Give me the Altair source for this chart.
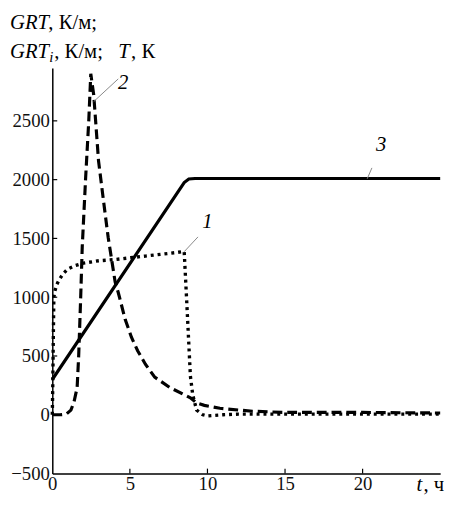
import altair as alt
import pandas as pd

# ---- data ----
# curve 1 (dotted): GRT
t1 = [0, 0.03, 0.06, 0.1, 0.18, 0.3, 0.45, 0.7, 1.0, 1.5, 2.0, 3.0, 4.0, 5.0, 6.0, 7.0, 8.0, 8.5,
      8.65, 8.9, 9.05, 9.3, 9.7, 10.0, 11.0, 12.0, 15.0, 20.0, 25.0]
v1 = [0, 250, 600, 1000, 1060, 1110, 1150, 1200, 1240, 1270, 1290, 1310, 1320, 1335, 1350, 1365, 1380, 1390,
      1000, 330, 170, 40, 0, -10, 0, 5, 5, 5, 5]
# curve 2 (dashed): GRT_i
t2 = [0, 0.5, 0.9, 1.2, 1.4, 1.6, 1.7, 1.83, 1.93, 2.15, 2.35, 2.48, 2.67, 2.98, 3.3, 3.6, 4.05, 4.25,
      4.7, 5.1, 5.5, 6.0, 6.6, 7.6, 8.9, 9.3, 9.8, 10.8, 12.9, 15.0, 20.0, 25.0]
v2 = [0, 0, 5, 40, 110, 230, 500, 1000, 1430, 2020, 2500, 2900, 2720, 2160, 1820, 1510, 1130, 1040,
      810, 660, 545, 430, 320, 230, 145, 100, 80, 55, 30, 20, 20, 15]
# curve 3 (solid): T
t3 = [0, 8.5, 8.8, 9.2, 25.0]
v3 = [300, 1975, 2005, 2010, 2010]

# curve labels and leader lines (data units)
lab_text = ["1", "2", "3"]
lab_t = [10.0, 4.57, 21.2]
lab_v = [1640, 2825, 2295]
lead_t1 = [8.5, 2.67, 20.3]
lead_v1 = [1387, 2664, 2008]
lead_t2 = [9.39, 4.25, 20.6]
lead_v2 = [1513, 2857, 2100]

x_ticks = [0, 5, 10, 15, 20]
y_ticks = [-500, 0, 500, 1000, 1500, 2000, 2500]

W, H = 394, 412
SERIF = "Liberation Serif, Times New Roman, Times, serif"

xs = alt.Scale(domain=[0, 25], nice=False, zero=False)
ys = alt.Scale(domain=[-500, 2950], nice=False, zero=False)

xaxis = alt.Axis(values=x_ticks, format="d", ticks=False, grid=False, title=None, labelPadding=1,
                 labelFont=SERIF)
yaxis = alt.Axis(values=y_ticks, format="d", ticks=False, grid=False, title=None, labelPadding=3,
                 labelFont=SERIF)

d1 = pd.DataFrame({"t": t1, "v": v1})
d2 = pd.DataFrame({"t": t2, "v": v2})
d3 = pd.DataFrame({"t": t3, "v": v3})

X = alt.X("t:Q", scale=xs, axis=xaxis)
Y = alt.Y("v:Q", scale=ys, axis=yaxis)

c3 = alt.Chart(d3).mark_line(color="black", strokeWidth=3.2).encode(x=X, y=Y)
c2 = alt.Chart(d2).mark_line(color="black", strokeWidth=3.2, strokeDash=[10, 5]).encode(x=X, y=Y)
c1 = alt.Chart(d1).mark_line(color="black", strokeWidth=3.4, strokeDash=[3, 4]).encode(x=X, y=Y)

labs = alt.Chart(pd.DataFrame({"t": lab_t, "v": lab_v, "s": lab_text})).mark_text(
    font=SERIF, fontStyle="italic", fontSize=21, color="#000", align="center", baseline="middle"
).encode(x=X, y=Y, text="s:N")

leads = alt.Chart(pd.DataFrame({"t": lead_t1, "v": lead_v1, "t2": lead_t2, "v2": lead_v2})).mark_rule(
    color="#888", strokeWidth=1).encode(x=X, y=Y, x2="t2:Q", y2="v2:Q")

xt = alt.Chart(pd.DataFrame({"t": x_ticks[1:]})).mark_rule(color="black", strokeWidth=1.2).encode(
    x=X, y=alt.value(H), y2=alt.value(H - 5))
yt = alt.Chart(pd.DataFrame({"v": y_ticks[1:]})).mark_rule(color="black", strokeWidth=1.2).encode(
    y=Y, x=alt.value(0), x2=alt.value(5))

one = pd.DataFrame({"a": [0]})


def txt(s, x, y, italic=False, size=21, baseline="alphabetic"):
    kw = dict(font=SERIF, fontSize=size, color="#000", align="left", baseline=baseline)
    if italic:
        kw["fontStyle"] = "italic"
    return alt.Chart(one).mark_text(**kw).encode(
        x=alt.value(x), y=alt.value(y), text=alt.value(s))


titles = [
    txt("GRT", -43, -40, italic=True),
    txt(", К/м;", -4, -40),
    txt("GRT", -43, -10, italic=True),
    txt("i", -3, -6, italic=True, size=15),
    txt(", К/м;", 2, -10),
    txt("T", 67, -10, italic=True),
    txt(", К", 80, -10),
    txt("t", 370, 430, italic=True),
    txt(", ч", 377, 430),
]

chart = alt.layer(c3, c2, c1, xt, yt, leads, labs, *titles).properties(
    width=W, height=H,
    autosize=alt.AutoSizeParams(type="none"),
    padding={"left": 45, "top": 57, "right": 12, "bottom": 25},
).configure_view(stroke=None).configure_axis(
    labelFont=SERIF, labelFontSize=19, labelColor="#111", labelFlush=False,
    domainColor="black", domainWidth=1.5, grid=False, ticks=False,
)

chart.save("out.html", embed_options={"renderer": "svg", "actions": False})
